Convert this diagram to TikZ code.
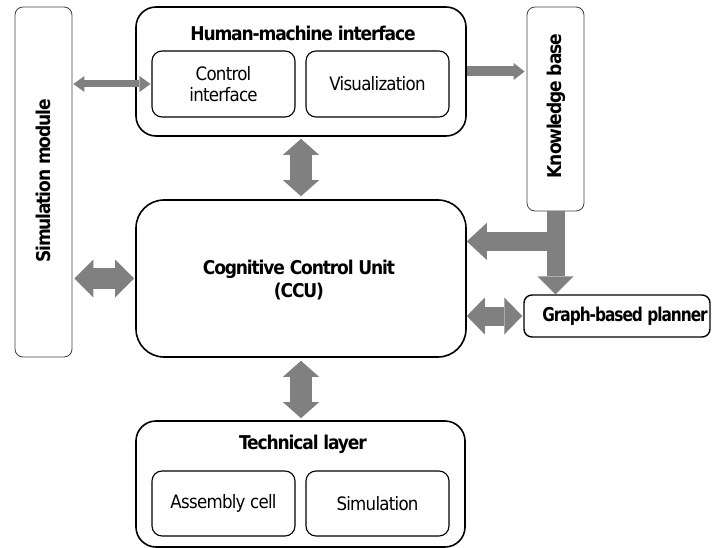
\documentclass[tikz,border=0pt]{standalone}
\usepackage{fontspec}
\setmainfont{DejaVu Sans Condensed}[LetterSpace=-4, BoldFeatures={LetterSpace=-6}]
\usetikzlibrary{arrows.meta,calc}
\definecolor{arrowgray}{RGB}{128,128,128}
\tikzset{
  outerbox/.style={draw, line width=1.6pt, rounded corners=20pt, inner sep=0pt},
  innerbox/.style={draw, line width=1.1pt, rounded corners=10pt, inner sep=0pt, align=center,
    font=\fontsize{18.5}{21}\selectfont},
  sidebox/.style={draw=black!75, line width=0.8pt, rounded corners=8pt, inner sep=0pt},
  titletext/.style={font=\bfseries\fontsize{19}{23}\selectfont, inner sep=0pt, align=center},
  thintip/.tip={Triangle[width=16pt 0 0, length=11pt 0 0, line width=0pt]},
  midtip/.tip={Triangle[width=17pt 0 0, length=11pt 0 0, line width=0pt]},
  vtip/.tip={Triangle[width=36pt 0 0, length=16pt 0 0, line width=0pt]},
  htip/.tip={Triangle[width=38pt 0 0, length=19pt 0 0, line width=0pt]},
  ptip/.tip={Triangle[width=37pt 0 0, length=18pt 0 0, line width=0pt]},
  ktip/.tip={Triangle[width=36pt 0 0, length=18pt 0 0, line width=0pt]},
  btip/.tip={Triangle[width=37pt 0 0, length=20pt 0 0, line width=0pt]},
}
\begin{document}
\begin{tikzpicture}[x=1pt,y=-1pt]
\useasboundingbox (0,0) rectangle (712,548);
% boxes
\node[sidebox, minimum width=57pt, minimum height=350pt] (sim) at (43.5,182) {};
\node[outerbox, minimum width=330pt, minimum height=129pt] (hmi) at (301,71.5) {};
\node[innerbox, minimum width=143pt, minimum height=66pt] (ctrl) at (223.5,84) {Control\\interface};
\node[innerbox, minimum width=143pt, minimum height=66pt] (vis) at (377.5,84) {Visualization};
\node[sidebox, minimum width=57pt, minimum height=204pt] (kb) at (555.5,109) {};
\node[outerbox, rounded corners=28pt, minimum width=330pt, minimum height=157pt] (ccu) at (301,278.5) {};
\node[draw, line width=1.4pt, rounded corners=8pt, inner sep=0pt, minimum width=186pt, minimum height=42pt] (planner) at (617,316) {};
\node[outerbox, minimum width=329pt, minimum height=126pt] (tech) at (300.5,484) {};
\node[innerbox, minimum width=143pt, minimum height=65pt] (asm) at (223.5,503.5) {Assembly cell};
\node[innerbox, minimum width=143pt, minimum height=65pt] (simu) at (377.5,503.5) {Simulation};
% texts
\node[titletext] (hmititle) at (303,33) {Human-machine interface};
\node[titletext] (ccutext) at (299,280) {Cognitive Control Unit\\(CCU)};
\node[titletext] (techtitle) at (303,444) {Technical layer};
\node[titletext, rotate=90] (simtext) at (43,181) {Simulation module};
\node[titletext, rotate=90] (kbtext) at (556,106) {Knowledge base};
\node[titletext, xscale=0.9] (plannertext) at (625,316) {Graph-based planner};
% arrows
\draw[arrowgray, line width=7pt, thintip-thintip, shorten <=1pt, shorten >=1pt]
  (sim.east |- ctrl.west) -- (ctrl.west);
\draw[arrowgray, line width=10pt, -midtip, shorten >=2pt]
  (hmi.east) -- (hmi.east -| kb.west);
\draw[arrowgray, line width=22pt, vtip-vtip, shorten <=2pt, shorten >=3pt]
  (hmi.south) -- (ccu.north);
\draw[arrowgray, line width=22pt, vtip-vtip, shorten <=3pt, shorten >=2pt]
  (ccu.south) -- (ccu.south |- tech.north);
\draw[arrowgray, line width=21pt, htip-htip, shorten <=2pt, shorten >=1pt]
  (sim.east |- ccu.west) -- (ccu.west);
\draw[arrowgray, line width=19pt, ptip-ptip, shorten <=0pt, shorten >=1pt]
  (ccu.east |- planner.west) -- (planner.west);
\coordinate (kbj) at ($(kb.south)+(9,30)$);
\draw[arrowgray, line width=18pt, -ktip] (kb.south) -- (kb.south |- planner.north);
\draw[arrowgray, line width=19pt, -btip] (kbj) -- (kbj -| ccu.east);
\end{tikzpicture}
\end{document}
